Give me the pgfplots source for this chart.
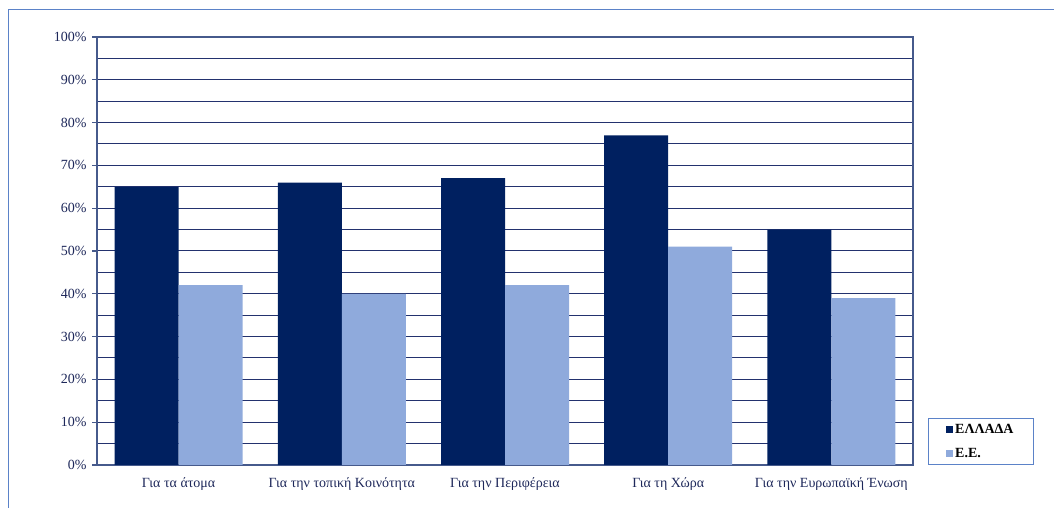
\documentclass[border=0pt]{standalone}
\usepackage{fontspec}
\setmainfont{Liberation Serif}
\usepackage{pgfplots}
\pgfplotsset{compat=1.18}
\definecolor{darkbar}{RGB}{0,32,96}
\definecolor{lightbar}{RGB}{143,170,220}
\definecolor{gridc}{RGB}{35,50,110}
\definecolor{axisc}{RGB}{70,90,140}
\definecolor{labc}{RGB}{30,40,90}
\definecolor{framec}{RGB}{91,130,200}
\begin{document}
\begin{tikzpicture}
\path[use as bounding box] (0,0) rectangle (1054bp,508bp);
\draw[framec, line width=1bp] (8bp,0) -- (8bp,498bp) -- (1054bp,498bp);
\begin{axis}[
  at={(97bp,43bp)}, anchor=south west,
  scale only axis, width=816bp, height=428bp,
  xmin=-0.5, xmax=4.5, ymin=0, ymax=100,
  ybar=0pt, bar width=64bp,
  font=\fontsize{14bp}{16bp}\selectfont,
  /pgf/number format/assume math mode=true,
  xtick={0,1,2,3,4},
  xticklabels={Για τα άτομα, Για την τοπική Κοινότητα, Για την Περιφέρεια, Για τη Χώρα, Για την Ευρωπαϊκή Ένωση},
  ytick={0,10,...,100},
  minor ytick={5,15,...,95},
  yticklabel={\pgfmathprintnumber{\tick}\%},
  ymajorgrids, yminorgrids,
  major grid style={gridc, line width=1bp},
  minor grid style={gridc, line width=1bp},
  axis line style={axisc, line width=1.2bp},
  xtick pos=bottom, ytick pos=left,
  tick align=outside,
  major tick length=5bp,
  minor tick length=0pt,
  xtick style={draw=none},
  extra x ticks={-0.5,0.5,1.5,2.5,3.5,4.5},
  extra x tick labels={},
  extra x tick style={major tick length=6bp, tick style={draw=axisc, line width=1.2bp}, grid=none},
  ytick style={axisc, line width=1.2bp},
  tick label style={text=labc},
  xticklabel style={yshift=-4bp},
  yticklabel style={xshift=-2bp},
  legend style={at={(1.018,0.0)}, anchor=south west, draw=framec, line width=1bp,
    font=\fontsize{14bp}{16bp}\selectfont\bfseries, text=black,
    inner xsep=18bp, inner ysep=4bp, row sep=9bp, cells={anchor=west}},
  legend image code/.code={\fill[#1] (0bp,-3.5bp) rectangle (7bp,3.5bp);},
]
\addplot[fill=darkbar, draw=none] coordinates {(0,65) (1,66) (2,67) (3,77) (4,55)};
\addplot[fill=lightbar, draw=none] coordinates {(0,42) (1,40) (2,42) (3,51) (4,39)};
\legend{ΕΛΛΑΔΑ, Ε.Ε.}
\end{axis}
\end{tikzpicture}
\end{document}
